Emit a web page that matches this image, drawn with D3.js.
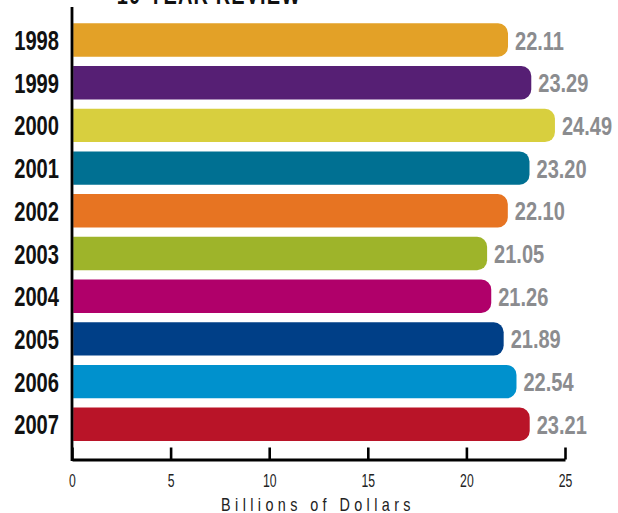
<!DOCTYPE html>
<html>
<head>
<meta charset="utf-8">
<script src="https://cdn.jsdelivr.net/npm/d3@7"></script>
<style>
  body { margin: 0; background: #fff; }
  svg { display: block; }
  text { font-family: "Liberation Sans", Arial, sans-serif; }
</style>
</head>
<body>
<svg id="chart" width="618" height="513"></svg>
<script>
var years = ["1998", "1999", "2000", "2001", "2002", "2003", "2004", "2005", "2006", "2007"];
var values = [22.11, 23.29, 24.49, 23.20, 22.10, 21.05, 21.26, 21.89, 22.54, 23.21];
var colors = ["#e3a127", "#561f74", "#d8cf3e", "#007092", "#e77422", "#9eb42a", "#b0006a", "#003f87", "#0091cd", "#b91428"];
var ticks = [0, 5, 10, 15, 20, 25];

var svg = d3.select("#chart");

var x = d3.scaleLinear().domain([0, 25]).range([72, 565]);
var y = d3.scaleBand().domain(years).range([18.65, 445.65])
    .paddingInner(0.218).paddingOuter(0.109);

var data = years.map(function(yr, i) {
  return { year: yr, value: values[i], color: colors[i] };
});

// squeezed text, to fake a condensed face
function place(px, py, sx) {
  return "translate(" + px + "," + py + ") scale(" + sx + ",1)";
}

// bar with rounded right end only
function barPath(d) {
  var x0 = x(0) + 1.2, x1 = x(d.value), y0 = y(d.year), h = y.bandwidth(), r = 10;
  return "M" + x0 + "," + y0 +
    "H" + (x1 - r) +
    "A" + r + "," + r + " 0 0 1 " + x1 + "," + (y0 + r) +
    "V" + (y0 + h - r) +
    "A" + r + "," + r + " 0 0 1 " + (x1 - r) + "," + (y0 + h) +
    "H" + x0 + "Z";
}

svg.append("text")
    .attr("transform", place(209, 4, 0.74))
    .attr("text-anchor", "middle")
    .attr("font-size", 27)
    .attr("font-weight", "bold")
    .attr("letter-spacing", 1.5)
    .attr("fill", "#111")
    .text("10-YEAR REVIEW");

svg.append("g").selectAll("path")
    .data(data)
    .enter().append("path")
    .attr("d", barPath)
    .attr("fill", function(d) { return d.color; });

svg.append("g").selectAll("text")
    .data(data)
    .enter().append("text")
    .attr("transform", function(d) { return place(x(d.value) + 7, y(d.year) + y.bandwidth() / 2 + 9.5, 0.77); })
    .attr("font-size", 26)
    .attr("font-weight", "bold")
    .attr("fill", "#8b8c8f")
    .text(function(d) { return d.value.toFixed(2); });

svg.append("g").selectAll("text")
    .data(data)
    .enter().append("text")
    .attr("transform", function(d) { return place(59, y(d.year) + y.bandwidth() / 2 + 10, 0.72); })
    .attr("text-anchor", "end")
    .attr("font-size", 28)
    .attr("font-weight", "bold")
    .attr("fill", "#111")
    .text(function(d) { return d.year; });

// axes
var axisY = 459.5;
var xAxis = d3.axisBottom(x).tickValues(ticks).tickSize(-12).tickPadding(0).tickSizeOuter(0);
var gx = svg.append("g")
    .attr("transform", "translate(0," + axisY + ")")
    .call(xAxis);
gx.select(".domain").attr("stroke", "#000").attr("stroke-width", 2.8);
gx.selectAll(".tick line").attr("stroke", "#000").attr("stroke-width", 2.6);
gx.selectAll(".tick text")
    .attr("y", null).attr("dy", null)
    .attr("transform", place(0, 27, 0.66))
    .attr("font-size", 18.5)
    .attr("fill", "#222")
    .style("font-family", "'Liberation Sans', sans-serif");

svg.append("line")
    .attr("x1", x(0)).attr("x2", x(0))
    .attr("y1", 7).attr("y2", axisY + 1.4)
    .attr("stroke", "#000")
    .attr("stroke-width", 2.8);

svg.append("text")
    .attr("transform", place(318, 511, 0.8))
    .attr("text-anchor", "middle")
    .attr("font-size", 18)
    .attr("letter-spacing", 5.5)
    .attr("fill", "#222")
    .text("Billions of Dollars");
</script>
</body>
</html>
